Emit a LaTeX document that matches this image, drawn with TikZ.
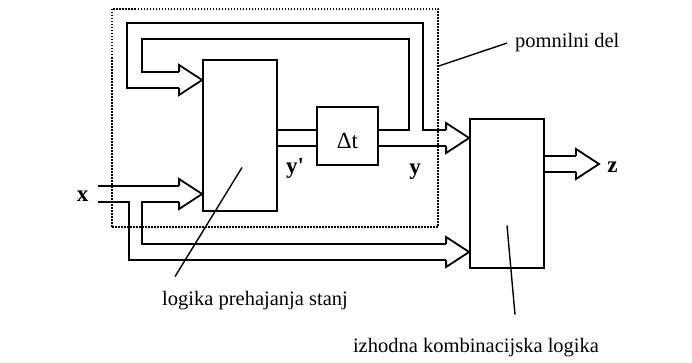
\documentclass[tikz,border=0pt]{standalone}
\usepackage{fontspec}
\setmainfont{Liberation Serif}
\usetikzlibrary{positioning,calc}

\tikzset{
  block/.style={draw, line width=1.8pt, inner sep=0pt, minimum width=74pt},
  memory/.style={draw, line width=1.6pt, dash pattern=on 1.5pt off 1.5pt, inner sep=0pt},
  bus/.style={line width=1.8pt, line join=miter},
  leader/.style={line width=1.4pt},
  lbl/.style={font=\fontsize{23}{27}\selectfont\bfseries, inner sep=0pt, anchor=base},
  txt/.style={font=\fontsize{20.5}{24}\selectfont, inner sep=0pt},
  bushead/.pic={
    \draw[bus] (-23,-8) -- (-23,-15) -- (0,0) -- (-23,15) -- (-23,8);
    \coordinate (-up) at (-23,-8);
    \coordinate (-dn) at (-23,8);
  }
}

\begin{document}
\begin{tikzpicture}[x=1pt, y=-1pt]
\useasboundingbox (0,0) rectangle (692,363);
\node[memory, minimum width=326pt, minimum height=218pt] (mem) at (275,118) {};
\node[block, minimum height=151pt] (logic) at (240,135.5) {};
\node[block, minimum width=61pt, minimum height=58pt] (delay) at (347.5,136) {};
\node[txt, font=\fontsize{23}{27}\selectfont] (dlbl) at ($(delay.center)+(0,5)$) {Δt};
\node[block, minimum height=149pt] (outlogic) at (507,193.5) {};
\coordinate (xsrc) at (98,194);
% bus heads
\pic (fb) at (logic.west |- 0,80) {bushead};
\pic (xin) at (logic.west |- 0,194) {bushead};
\pic (yin) at (outlogic.west |- 0,138) {bushead};
\pic (xout) at (outlogic.west |- 0,252) {bushead};
\pic (zout) at (599,164) {bushead};
% buses
\draw[bus] (logic.east |- yin-up) -- (delay.west |- yin-up);
\draw[bus] (logic.east |- yin-dn) -- (delay.west |- yin-dn);
\draw[bus] (delay.east |- yin-up) -- ++(30,0) -- ++(0,-91) -| ($(fb-up)+(-37,0)$) -- (fb-up);
\draw[bus] (fb-dn) -- ++(-52,0) -- ++(0,-65) -| ($(yin-up)+(-23,0)$) -- (yin-up);
\draw[bus] (delay.east |- yin-dn) -- (yin-dn);
\draw[bus] (xsrc |- xin-up) -- (xin-up);
\draw[bus] (xsrc |- xin-dn) -- ++(31,0) |- (xout-dn);
\draw[bus] (xin-dn) -- ++(-37,0) |- (xout-up);
\draw[bus] (outlogic.east |- zout-up) -- (zout-up);
\draw[bus] (outlogic.east |- zout-dn) -- (zout-dn);
% labels
\node[lbl] (xlbl) at (82.5,201) {x};
\node[lbl] (yplbl) at (295,174) {y\textquotesingle};
\node[lbl] (ylbl) at (415,174.5) {y};
\node[lbl] (zlbl) at (612.5,173) {z};
\node[txt, anchor=base west] (pomlbl) at (515,48) {pomnilni del};
\node[txt, anchor=base] (loglbl) at (255,305) {logika prehajanja stanj};
\node[txt, anchor=base] (izlbl) at (476,352) {izhodna kombinacijska logika};
\draw[leader] (mem.east |- 0,66) -- ($(pomlbl.west)+(-8,0)$);
\draw[leader] ($(logic.center)+(2,32)$) -- ($(loglbl.north west)+(13,-14)$);
\draw[leader] ($(outlogic.center)+(0,32)$) -- ($(izlbl.north)+(39,-23)$);
\end{tikzpicture}
\end{document}
